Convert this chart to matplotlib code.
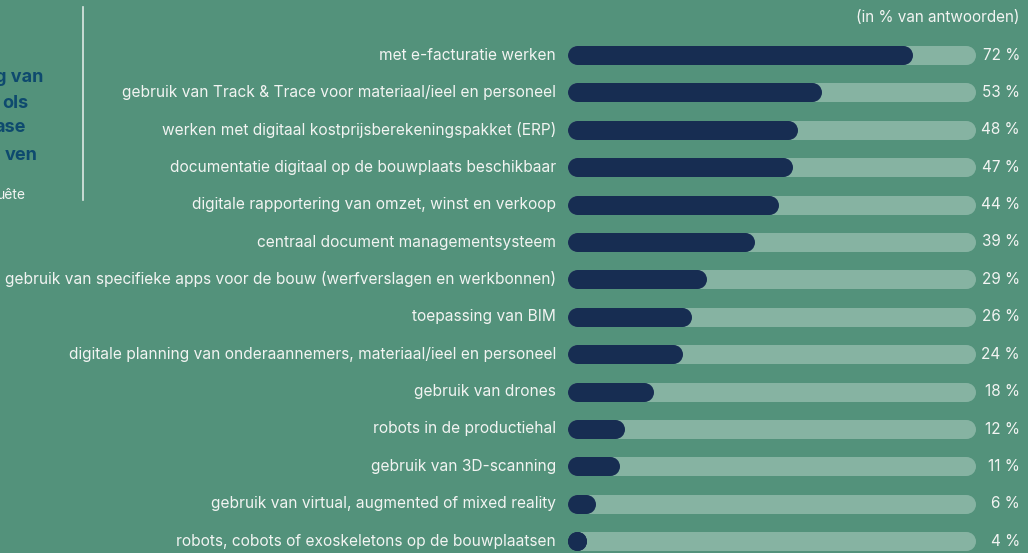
import matplotlib
matplotlib.use("Agg")
import matplotlib.pyplot as plt

# ---- data -------------------------------------------------------------
labels = [
    "met e-facturatie werken",
    "gebruik van Track & Trace voor materiaal/ieel en personeel",
    "werken met digitaal kostprijsberekeningspakket (ERP)",
    "documentatie digitaal op de bouwplaats beschikbaar",
    "digitale rapportering van omzet, winst en verkoop",
    "centraal document managementsysteem",
    "gebruik van specifieke apps voor de bouw (werfverslagen en werkbonnen)",
    "toepassing van BIM",
    "digitale planning van onderaannemers, materiaal/ieel en personeel",
    "gebruik van drones",
    "robots in de productiehal",
    "gebruik van 3D-scanning",
    "gebruik van virtual, augmented of mixed reality",
    "robots, cobots of exoskeletons op de bouwplaatsen",
]
values = [72, 53, 48, 47, 44, 39, 29, 26, 24, 18, 12, 11, 6, 4]
track_max = 85  # light track length in % units

title_tails = ["g van", "ols", "ase", "ven"]
source_tail = "uête"
unit_note = "(in % van antwoorden)"

# ---- style ------------------------------------------------------------
BG = "#53927B"
DARK = "#172D52"
TRACK = "#86B3A2"
TEXT = "#F2F4F2"
TITLE = "#0E4A6E"
plt.rcParams["font.family"] = ["Inter", "DejaVu Sans"]

W, H = 1028, 553
fig = plt.figure(figsize=(W / 100, H / 100), dpi=100, facecolor=BG)

# bar axes: x 0..track_max spans pixels 567..975, rows 37.4 px apart
x0_px, x1_px = 567, 975
row_h = 37.4
top_px = 55 - row_h / 2
n = len(values)
ax = fig.add_axes([x0_px / W, (H - top_px - n * row_h) / H,
                   (x1_px - x0_px) / W, n * row_h / H])
ax.set_xlim(0, track_max)
ax.set_ylim(n - 0.5, -0.5)
ax.axis("off")

bar_px = 19
lw = bar_px * 72 / 100
r = (bar_px / 2) * track_max / (x1_px - x0_px)  # cap radius in data units


def pill(x_end, y, color):
    # straight body plus round end markers, so short bars still show
    ax.plot([r, max(x_end - r, r)], [y, y], color=color, lw=lw,
            solid_capstyle="butt", marker="o", ms=lw, mew=0,
            mfc=color, clip_on=False)


for i, (lab, v) in enumerate(zip(labels, values)):
    pill(track_max, i, TRACK)
    pill(v, i, DARK)
    ax.annotate(lab, xy=(0, i), xytext=(-11, 0), textcoords="offset pixels",
                ha="right", va="center", color=TEXT, fontsize=11.15)
    ax.annotate(f"{v} %", xy=(track_max, i), xytext=(45, 0),
                textcoords="offset pixels", ha="right", va="center",
                color=TEXT, fontsize=11)

fig.text(1020 / W, 1 - 17 / H, unit_note, ha="right", va="center",
         color=TEXT, fontsize=11)

# cropped title block on the left
title_y = [77, 103, 128, 155]
title_x = [43, 28, 26, 38]
for t, x, y in zip(title_tails, title_x, title_y):
    fig.text(x / W, 1 - y / H, t, ha="right", va="center",
             color=TITLE, fontsize=13, fontweight="bold")
fig.text(26 / W, 1 - 195 / H, source_tail, ha="right", va="center",
         color=TEXT, fontsize=10)

fig.add_artist(plt.Line2D([83 / W, 83 / W], [1 - 7 / H, 1 - 200 / H],
                          transform=fig.transFigure, color="#DDE8E3", lw=1.2))

fig.savefig("out.png", dpi=100, facecolor=BG)
